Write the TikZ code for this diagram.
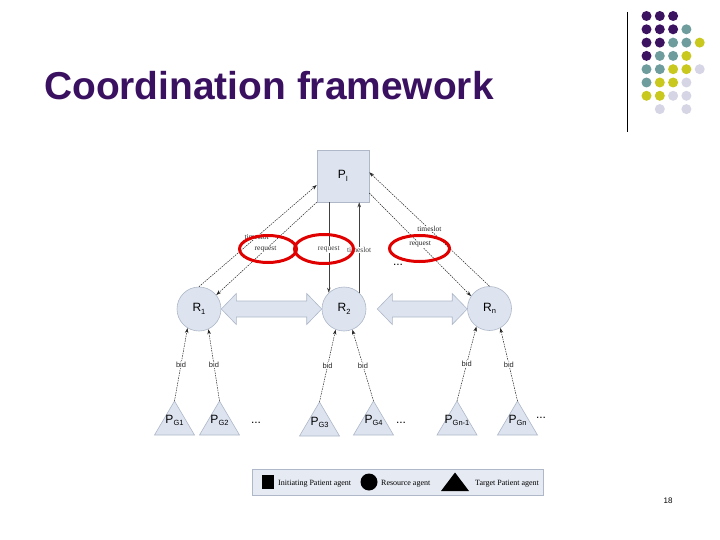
\documentclass[tikz,border=0pt]{standalone}
\usepackage{fontspec}
\setmainfont{Liberation Serif}
\setsansfont{Liberation Sans}
\usetikzlibrary{arrows.meta,calc,shapes.geometric}
\definecolor{titlec}{HTML}{3A1060}
\definecolor{boxc}{HTML}{DDE4F0}
\definecolor{bordc}{HTML}{AEB8C8}
\definecolor{redc}{HTML}{E00000}
\definecolor{legc}{HTML}{E6EAF2}
\definecolor{dP}{HTML}{3C1361}
\definecolor{dT}{HTML}{6F9C9C}
\definecolor{dY}{HTML}{C8C81E}
\definecolor{dL}{HTML}{D5D5E5}
\newcommand\sbs[1]{\raisebox{-0.4ex}{\fontsize{7.5}{8}\selectfont #1}}
\tikzset{
  agent/.style={fill=boxc, draw=bordc, line width=0.6pt, inner sep=0pt,
    font=\sffamily\fontsize{12}{14}\selectfont},
  tri/.style={fill=boxc, draw=bordc, line width=0.6pt},
  blk/.style={fill=boxc, draw=bordc, line width=0.6pt},
  msg/.style={line width=0.5pt, black!85, dash pattern=on 1.5pt off 1pt,
    -{Stealth[length=5pt,width=3.5pt]}},
  msgs/.style={line width=0.5pt, black!75, -{Stealth[length=5pt,width=3.5pt]}},
  lbl/.style={fill=white, inner sep=0.6pt, font=\fontsize{7.5}{8}\selectfont},
  bidl/.style={fill=white, inner sep=0.6pt, font=\sffamily\fontsize{7.5}{8}\selectfont},
  redell/.style={draw=redc, line width=3pt, ellipse, inner sep=0pt},
  dots/.style={font=\sffamily\fontsize{12}{12}\selectfont, inner sep=0pt},
  legt/.style={anchor=base west, inner sep=0pt, font=\fontsize{8}{9}\selectfont},
  dot/.style={inner sep=0pt}
}
\begin{document}
\begin{tikzpicture}[x=1pt,y=-1pt]
\useasboundingbox (0,0) rectangle (720,540);
\fill[white] (0,0) rectangle (720,540);

% title
\node[anchor=base west, inner sep=0pt, text=titlec,
  font=\sffamily\bfseries\fontsize{38.9}{46}\selectfont] (title) at (44,100) {Coordination framework};

% decoration
\draw[line width=1pt] (627,12) -- (627,132);
\foreach \row/\cols in {0/{P,P,P}, 1/{P,P,P,T}, 2/{P,P,T,T,Y}, 3/{P,T,T,Y},
  4/{T,T,Y,Y,L}, 5/{T,Y,Y,L}, 6/{Y,Y,L,L}}{
  \foreach \c [count=\i from 0] in \cols {
    \fill[d\c] (646.5+13.3*\i, 16+13.3*\row) circle (5);
  }
}
\fill[dL] (646.5+13.3, 16+13.3*7) circle (5);
\fill[dL] (646.5+13.3*3, 16+13.3*7) circle (5);

% nodes
\node[agent, rectangle, minimum width=52, minimum height=52] (pi) at (343,176) {P\sbs{I}};
\node[agent, circle, minimum size=44] (r1) at (199,309) {R\sbs{1}};
\node[agent, circle, minimum size=44] (r2) at (344,309) {R\sbs{2}};
\node[agent, circle, minimum size=44] (rn) at (489.5,308.5) {R\sbs{n}};

% block double arrows
\draw[blk] let \p1=(r1.east), \p2=(r2.west) in
  (\x1,\y1) -- (\x1+15pt,\y1+15.5pt) -- (\x1+15pt,\y1+8pt) -- (\x2-15pt,\y1+8pt)
  -- (\x2-15pt,\y1+15.5pt) -- (\x2,\y1) -- (\x2-15pt,\y1-15.5pt) -- (\x2-15pt,\y1-8pt)
  -- (\x1+15pt,\y1-8pt) -- (\x1+15pt,\y1-15.5pt) -- cycle;
\draw[blk] let \p1=($(r2.east)+(11,0)$), \p2=(rn.west) in
  (\x1,\y1) -- (\x1+15pt,\y1+15.5pt) -- (\x1+15pt,\y1+8pt) -- (\x2-15pt,\y1+8pt)
  -- (\x2-15pt,\y1+15.5pt) -- (\x2,\y1) -- (\x2-15pt,\y1-15.5pt) -- (\x2-15pt,\y1-8pt)
  -- (\x1+15pt,\y1-8pt) -- (\x1+15pt,\y1-15.5pt) -- cycle;

% top messages
\draw[msg] (r1.north) -- node[lbl, pos=0.49] {timeslot} (pi.199);
\draw[msg] (pi.south west) -- node[lbl, pos=0.51] {request} (r1.39);
\draw[msgs] (pi.south -| r2.133) -- node[lbl, pos=0.52] {request} (r2.133);
\draw[msgs] (r2.47) -- node[lbl, pos=0.47] {timeslot} (pi.south -| r2.47);
\draw[msg] (pi.-33) -- node[lbl, pos=0.5] {request} (rn.146);
\draw[msg] (rn.90) -- node[lbl, pos=0.5] {timeslot} (pi.8);
\node[dots] (d0) at (398,265) {...};

% red ellipses
\node[redell, minimum width=57, minimum height=27] (e1) at (268,249) {};
\node[redell, minimum width=59, minimum height=29] (e2) at (324,249) {};
\node[redell, minimum width=60, minimum height=26] (e3) at (419.5,248.5) {};

% target patient agents
\coordinate (g1) at (174.5,401);
\coordinate (g2) at (219.5,401);
\coordinate (g3) at (319.5,402);
\coordinate (g4) at (373.5,401);
\coordinate (g5) at (457,401);
\coordinate (g6) at (517.5,401);
\foreach \g in {g1,g2,g3,g4,g5,g6}{
  \draw[tri] (\g) -- ++(-20,34) -- ++(40,0) -- cycle;
}
\node[agent, draw=none, fill=none] (g1t) at ($(g1)+(0,19.5)$) {P\sbs{G1}};
\node[agent, draw=none, fill=none] (g2t) at ($(g2)+(0,19.5)$) {P\sbs{G2}};
\node[agent, draw=none, fill=none] (g3t) at ($(g3)+(0,20.5)$) {P\sbs{G3}};
\node[agent, draw=none, fill=none] (g4t) at ($(g4)+(0,19.5)$) {P\sbs{G4}};
\node[agent, draw=none, fill=none] (g5t) at ($(g5)+(0,19.5)$) {P\sbs{Gn-1}};
\node[agent, draw=none, fill=none] (g6t) at ($(g6)+(0,19.5)$) {P\sbs{Gn}};
\node[dots] (d1) at (256,423) {...};
\node[dots] (d2) at (401,423) {...};
\node[dots] (d3) at (541,418) {...};

% bids
\draw[msg] (g1) -- node[bidl, pos=0.5] {bid} (r1.239);
\draw[msg] (g2) -- node[bidl, pos=0.5] {bid} (r1.295);
\draw[msg] (g3) -- node[bidl, pos=0.5] {bid} (r2.248);
\draw[msg] (g4) -- node[bidl, pos=0.5] {bid} (r2.292);
\draw[msg] (g5) -- node[bidl, pos=0.5] {bid} (rn.234);
\draw[msg] (g6) -- node[bidl, pos=0.5] {bid} (rn.299);

% legend
\draw[fill=legc, draw=bordc, line width=0.6pt] (252,469) rectangle (543,495);
\fill[black] (262,475) rectangle (274,489);
\node[legt] (lt1) at (278,485.5) {Initiating Patient agent};
\fill[black] (369,482) circle (8.5);
\node[legt] (lt2) at (381,485.5) {Resource agent};
\fill[black] (455,472.5) -- (469,491) -- (441,491) -- cycle;
\node[legt] (lt3) at (475,485.5) {Target Patient agent};

% page number
\node[font=\sffamily\fontsize{8}{9}\selectfont, inner sep=0pt] (pg) at (668,501) {18};
\end{tikzpicture}
\end{document}
